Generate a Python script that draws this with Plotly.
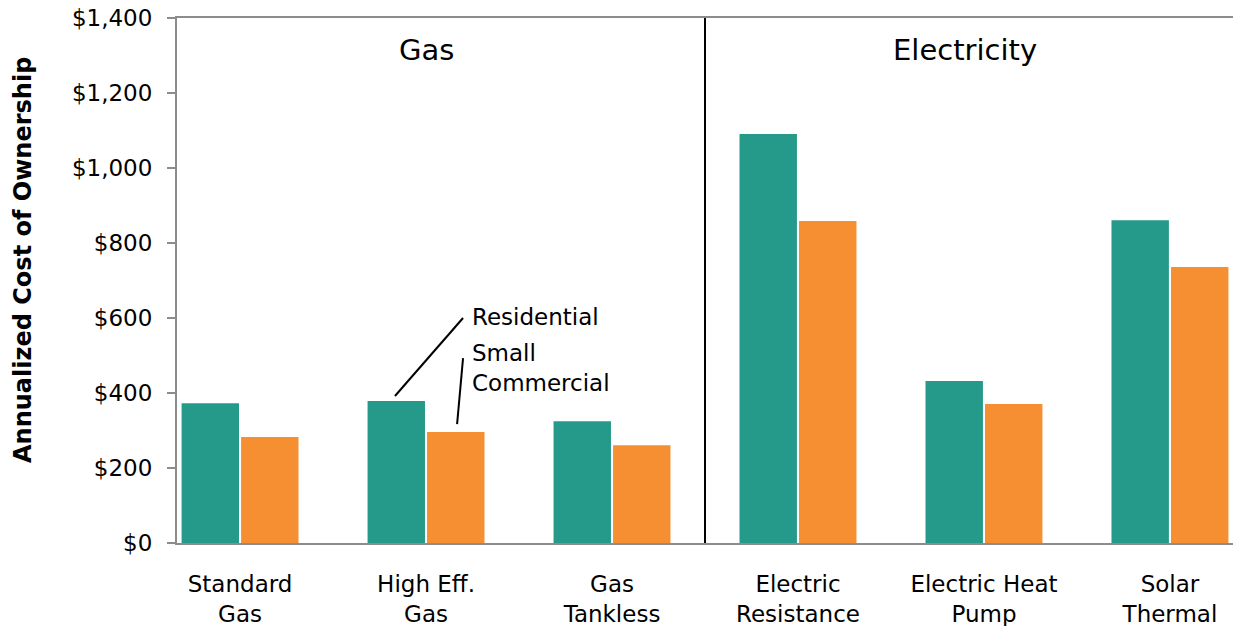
import plotly.graph_objects as go

categories = ["Standard<br>Gas", "High Eff.<br>Gas", "Gas<br>Tankless",
              "Electric<br>Resistance", "Electric Heat<br>Pump", "Solar<br>Thermal"]
residential = [373, 379, 325, 1091, 432, 861]
small_commercial = [283, 296, 261, 859, 371, 736]
y_ticks = [0, 200, 400, 600, 800, 1000, 1200, 1400]
y_tick_labels = ["$0", "$200", "$400", "$600", "$800", "$1,000", "$1,200", "$1,400"]

TEAL = "#269a8a"
ORANGE = "#f58f32"
FONT = "DejaVu Sans"

x = list(range(len(categories)))

fig = go.Figure()
fig.add_trace(go.Bar(x=x, y=residential, name="Residential", marker=dict(color=TEAL, line=dict(width=0))))
fig.add_trace(go.Bar(x=x, y=small_commercial, name="Small Commercial", marker=dict(color=ORANGE, line=dict(width=0))))

fig.update_layout(
    width=1233, height=626,
    margin=dict(l=177, r=0, t=18, b=83),
    paper_bgcolor="white", plot_bgcolor="white",
    barmode="group", bargap=0.36, bargroupgap=0.035,
    showlegend=False,
    font=dict(family=FONT, color="black", size=23),
)
fig.update_xaxes(
    tickmode="array", tickvals=x, ticktext=categories,
    range=[-0.339, len(categories) - 1 + 0.339],
    showline=True, linecolor="#8c8c8c", linewidth=2, mirror=True,
    ticks="", showgrid=False, zeroline=False,
    tickfont=dict(size=23, family=FONT), ticklabelstandoff=19,
)
fig.update_yaxes(
    range=[0, 1400], tickmode="array", tickvals=y_ticks, ticktext=y_tick_labels,
    showline=True, linecolor="#8c8c8c", linewidth=2,
    ticks="outside", ticklen=8, tickcolor="#8c8c8c", tickwidth=2,
    showgrid=False, zeroline=False,
    tickfont=dict(size=23, family=FONT), ticklabelstandoff=10,
)

# y-axis title placed as rotated annotation
fig.add_annotation(xref="paper", yref="paper", x=-(177 - 23) / 1056, y=(543 - 260) / 525,
                   text="<b>Annualized Cost of Ownership</b>", textangle=-90,
                   showarrow=False, xanchor="center", yanchor="middle",
                   font=dict(size=24, family=FONT))

# divider between Gas and Electricity groups
fig.add_shape(type="line", x0=2.5, x1=2.5, y0=0, y1=1400, xref="x", yref="y",
              line=dict(color="black", width=2))

fig.add_annotation(x=1, y=1315, text="Gas", showarrow=False, font=dict(size=29, family=FONT))
fig.add_annotation(x=3.9, y=1315, text="Electricity", showarrow=False, font=dict(size=29, family=FONT))

# series labels with leader lines
fig.add_shape(type="line", x0=0.833, y0=392, x1=1.199, y1=600, line=dict(color="black", width=2))
fig.add_shape(type="line", x0=1.167, y0=317, x1=1.199, y1=493, line=dict(color="black", width=2))
fig.add_annotation(x=1.237, y=604, text="Residential", showarrow=False, xanchor="left",
                   font=dict(size=23, family=FONT))
fig.add_annotation(x=1.237, y=468, text="Small<br>Commercial", showarrow=False, xanchor="left",
                   align="left", font=dict(size=23, family=FONT))

fig.write_html("out.html")
